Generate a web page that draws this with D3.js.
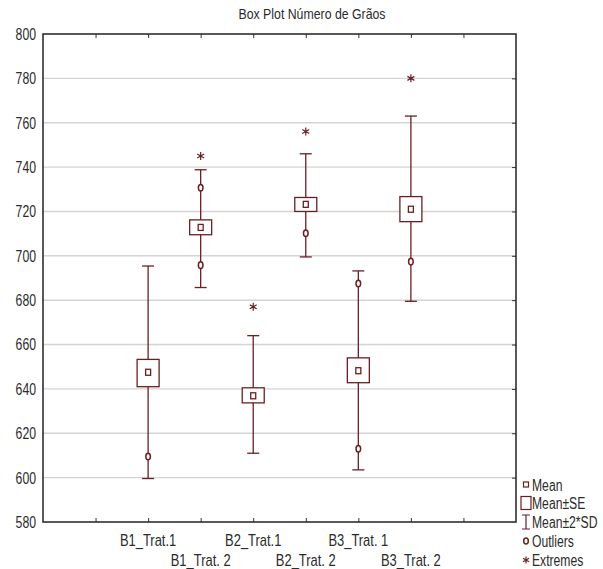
<!DOCTYPE html>
<html lang="pt">
<head>
<meta charset="UTF-8">
<title>Box Plot Número de Grãos</title>
<style>
  body { margin: 0; background: #fff; }
  text { font-family: "Liberation Sans", Arial, sans-serif; fill: #2b2b2b; }
</style>
</head>
<body>
<svg id="boxChart"></svg>
<script src="https://cdn.jsdelivr.net/npm/d3@7/dist/d3.min.js"></script>
<script>
// valores
const categories = ["B1_Trat.1", "B1_Trat. 2", "B2_Trat.1", "B2_Trat. 2", "B3_Trat. 1", "B3_Trat. 2"];
const means   = [647.5, 712.8, 636.9, 723.2, 648.2, 721.0];
const seLow   = [641.0, 709.5, 633.7, 720.0, 642.8, 715.4];
const seHigh  = [653.3, 716.2, 640.5, 726.3, 654.0, 726.7];
const sd2Low  = [599.6, 685.7, 611.0, 699.5, 603.5, 679.5];
const sd2High = [695.4, 738.8, 664.0, 746.0, 693.2, 763.0];
const outliers = [[609.5], [730.7, 695.8], [], [710.2], [687.5, 613.0], [697.4]];
const extremes = [[], [745.0], [677.0], [756.0], [], [780.0]];
const yTicks = [580, 600, 620, 640, 660, 680, 700, 720, 740, 760, 780, 800];
const legendItems = ["Mean", "Mean±SE", "Mean±2*SD", "Outliers", "Extremes"];

const W = 603, H = 569;
const margin = { top: 34, right: 87, bottom: 47, left: 43 };
const color = "#6b1f22";

const svg = d3.select("#boxChart").attr("width", W).attr("height", H);

const x = d3.scaleLinear().domain([0, 9]).range([margin.left, W - margin.right]);
const y = d3.scaleLinear().domain([580, 800]).range([H - margin.bottom, margin.top]);

// texto estreito, como no original
function squeeze(sel, k) {
    sel.each(function () {
        const L = this.getComputedTextLength();
        d3.select(this).attr("textLength", L * k).attr("lengthAdjust", "spacingAndGlyphs");
    });
}

// grade horizontal
svg.append("g")
    .selectAll("line")
    .data(yTicks.slice(1, -1))
    .enter().append("line")
    .attr("x1", x(0)).attr("x2", x(9))
    .attr("y1", d => y(d)).attr("y2", d => y(d))
    .attr("stroke", "#d4d4d4").attr("stroke-width", 1.4);

// eixos
svg.append("g")
    .attr("transform", "translate(" + x(0) + ",0)")
    .call(d3.axisLeft(y).tickValues(yTicks).tickSize(0).tickPadding(7))
    .call(g => g.select(".domain").remove())
    .selectAll("text").style("font-size", "17px").attr("fill", "#2b2b2b")
    .call(squeeze, 0.72);

svg.append("g")
    .attr("transform", "translate(0," + y(580) + ")")
    .call(d3.axisBottom(x).tickValues(d3.range(1, 9)).tickSize(-4).tickFormat(""))
    .call(g => g.select(".domain").remove())
    .selectAll("line").attr("stroke", "#333");

svg.append("g")
    .attr("transform", "translate(0," + y(800) + ")")
    .call(d3.axisTop(x).tickValues(d3.range(1, 9)).tickSize(-4).tickFormat(""))
    .call(g => g.select(".domain").remove())
    .selectAll("line").attr("stroke", "#333");

svg.append("g")
    .attr("transform", "translate(" + x(9) + ",0)")
    .call(d3.axisRight(y).tickValues(yTicks.slice(1, -1)).tickSize(-4).tickFormat(""))
    .call(g => g.select(".domain").remove())
    .selectAll("line").attr("stroke", "#333");

// rótulos das categorias, em duas linhas alternadas
svg.append("g")
    .selectAll("text")
    .data(categories)
    .enter().append("text")
    .attr("x", (d, i) => x(i + 2))
    .attr("y", (d, i) => i % 2 === 0 ? 546 : 566)
    .attr("text-anchor", "middle")
    .style("font-size", "17px")
    .text(d => d)
    .call(squeeze, 0.76);

// moldura
svg.append("rect")
    .attr("x", x(0)).attr("y", y(800))
    .attr("width", x(9) - x(0)).attr("height", y(580) - y(800))
    .attr("fill", "none").attr("stroke", "#222").attr("stroke-width", 1.5);

// título
svg.append("text")
    .attr("x", 312).attr("y", 19)
    .attr("text-anchor", "middle")
    .style("font-size", "15px")
    .text("Box Plot Número de Grãos")
    .call(squeeze, 0.82);

const boxW = 22, capW = 12;
const idx = d3.range(categories.length);
const plot = svg.append("g").attr("stroke", color).attr("fill", "none").attr("stroke-width", 1.3);

// bigodes (média ± 2*DP)
plot.selectAll("line.whisk")
    .data(idx)
    .enter().append("line").attr("class", "whisk")
    .attr("x1", i => x(i + 2)).attr("x2", i => x(i + 2))
    .attr("y1", i => y(sd2Low[i])).attr("y2", i => y(sd2High[i]));

plot.selectAll("line.capLo")
    .data(idx)
    .enter().append("line").attr("class", "capLo")
    .attr("x1", i => x(i + 2) - capW / 2).attr("x2", i => x(i + 2) + capW / 2)
    .attr("y1", i => y(sd2Low[i])).attr("y2", i => y(sd2Low[i]));

plot.selectAll("line.capHi")
    .data(idx)
    .enter().append("line").attr("class", "capHi")
    .attr("x1", i => x(i + 2) - capW / 2).attr("x2", i => x(i + 2) + capW / 2)
    .attr("y1", i => y(sd2High[i])).attr("y2", i => y(sd2High[i]));

// caixa (média ± EP)
plot.selectAll("rect.box")
    .data(idx)
    .enter().append("rect").attr("class", "box")
    .attr("x", i => x(i + 2) - boxW / 2)
    .attr("width", boxW)
    .attr("y", i => y(seHigh[i]))
    .attr("height", i => y(seLow[i]) - y(seHigh[i]))
    .attr("fill", "#fff");

// média
plot.selectAll("rect.mean")
    .data(idx)
    .enter().append("rect").attr("class", "mean")
    .attr("x", i => x(i + 2) - 2.5)
    .attr("y", i => y(means[i]) - 3)
    .attr("width", 5).attr("height", 6)
    .attr("fill", "#fff");

// outliers
const outPts = idx.flatMap(i => outliers[i].map(v => ({ i: i, v: v })));
plot.selectAll("ellipse")
    .data(outPts)
    .enter().append("ellipse")
    .attr("cx", d => x(d.i + 2)).attr("cy", d => y(d.v))
    .attr("rx", 2.3).attr("ry", 3.3)
    .attr("fill", "#fff").attr("stroke-width", 1.5);

// extremos
function asterisk(cx, cy, r) {
    let p = "";
    [90, 30, 150].forEach(a => {
        const dx = r * Math.cos(a * Math.PI / 180), dy = r * Math.sin(a * Math.PI / 180);
        p += "M" + (cx - dx) + "," + (cy - dy) + "L" + (cx + dx) + "," + (cy + dy);
    });
    return p;
}
const extPts = idx.flatMap(i => extremes[i].map(v => ({ i: i, v: v })));
plot.selectAll("path.ext")
    .data(extPts)
    .enter().append("path").attr("class", "ext")
    .attr("d", d => asterisk(x(d.i + 2), y(d.v), 4))
    .attr("stroke-width", 1.2);

// legenda
const ly = [485, 503, 522, 541, 560];
svg.append("g")
    .attr("transform", "translate(532,0) scale(0.76,1)")
    .selectAll("text")
    .data(legendItems)
    .enter().append("text")
    .attr("x", 0).attr("y", (d, i) => ly[i] + 6)
    .style("font-size", "16px")
    .text(d => d);
const ls = svg.append("g").attr("transform", "translate(526,0)")
    .attr("stroke", color).attr("fill", "none").attr("stroke-width", 1.2);
ls.append("rect").attr("x", -2.5).attr("y", ly[0] - 3).attr("width", 5).attr("height", 5);
ls.append("rect").attr("x", -5).attr("y", ly[1] - 6.5).attr("width", 10).attr("height", 13);
ls.append("path").attr("d", "M-4," + (ly[2] - 7) + "H4M0," + (ly[2] - 7) + "V" + (ly[2] + 7) + "M-4," + (ly[2] + 7) + "H4");
ls.append("ellipse").attr("cx", 0).attr("cy", ly[3]).attr("rx", 2.3).attr("ry", 3).attr("stroke-width", 1.5);
ls.append("path").attr("d", asterisk(0, ly[4], 3.5));
</script>
</body>
</html>
